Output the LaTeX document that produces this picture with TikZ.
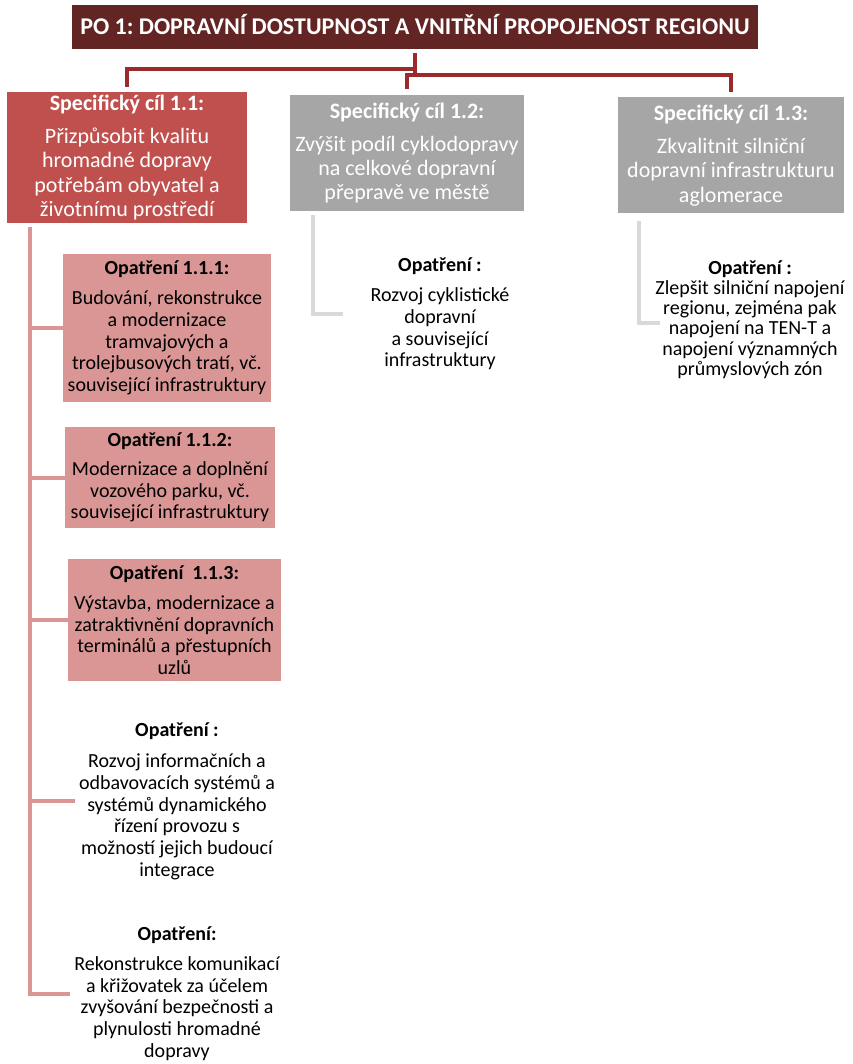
\documentclass[tikz,border=0pt]{standalone}
\usepackage{fontspec}
\setmainfont{Carlito}
\frenchspacing
\definecolor{titlered}{RGB}{99,37,35}
\definecolor{toplinec}{RGB}{155,42,44}
\definecolor{specred}{RGB}{192,80,77}
\definecolor{specgrey}{RGB}{166,166,166}
\definecolor{oppink}{RGB}{217,150,148}
\definecolor{linegrey}{RGB}{217,217,217}
\begin{document}
\begin{tikzpicture}[x=1pt,y=-1pt,
  titlebox/.style={rectangle, fill=titlered, text=white, inner sep=0pt,
    font=\fontsize{24}{28}\selectfont\bfseries, text height=15.5pt, text depth=0pt},
  specbox/.style={rectangle, text=white, inner sep=0pt, align=center,
    font=\fontsize{22}{24.3}\selectfont},
  opbox/.style={rectangle, fill=oppink, text=black, inner sep=0pt, align=center,
    font=\fontsize{20}{21.7}\selectfont},
  optext/.style={rectangle, text=black, inner sep=4pt, align=center,
    font=\fontsize{20}{21.7}\selectfont},
  toplink/.style={draw=toplinec, line width=4pt, line join=miter},
  pinklink/.style={draw=oppink, line width=4pt, line join=miter},
  greylink/.style={draw=linegrey, line width=4pt, line join=miter}]
\useasboundingbox (0,0) rectangle (852,1064);

% title
\node[titlebox, minimum width=686pt, minimum height=44pt] (title) at (415,27)
  {PO 1: DOPRAVNÍ DOSTUPNOST A VNITŘNÍ PROPOJENOST REGIONU};

% specific goals
\node[specbox, fill=specred, minimum width=240pt, minimum height=131pt] (s1) at (127,157.5)
  {\textbf{Specifický cíl 1.1:}\\[9pt]Přizpůsobit kvalitu\\hromadné dopravy\\potřebám obyvatel a\\životnímu prostředí};
\node[specbox, fill=specgrey, minimum width=234pt, minimum height=116pt] (s2) at (407,153)
  {\textbf{Specifický cíl 1.2:}\\[9pt]Zvýšit podíl cyklodopravy\\na celkové dopravní\\přepravě ve městě};
\node[specbox, fill=specgrey, minimum width=226pt, minimum height=116pt] (s3) at (731,155.5)
  {\textbf{Specifický cíl 1.3:}\\[9pt]Zkvalitnit silniční\\dopravní infrastrukturu\\aglomerace};

% top connectors
\coordinate (hub) at (415,69);
\coordinate (hubend) at (415,73);
\coordinate (hub2) at (407,75);
\draw[toplink] ([yshift=-4pt]title.south) -- (hubend);
\draw[toplink] (hub) -| ([yshift=5pt]s1.north);
\draw[toplink] ([yshift=6pt]s2.north) -- (s2.north |- hub2) -| ([yshift=5pt]s3.north);

% measures under 1.1
\node[opbox, minimum width=208pt, minimum height=148pt] (o1) at (167,328)
  {\textbf{Opatření 1.1.1:}\\[8.5pt]Budování, rekonstrukce\\a modernizace\\tramvajových a\\trolejbusových tratí, vč.\\související infrastruktury};
\node[opbox, minimum width=210pt, minimum height=101pt] (o2) at (170,477.5)
  {\textbf{Opatření 1.1.2:}\\[7.5pt]Modernizace a doplnění\\vozového parku, vč.\\související infrastruktury};
\node[opbox, minimum width=213pt, minimum height=122pt] (o3) at (174.5,620)
  {\textbf{Opatření\ \ 1.1.3:}\\[8.5pt]Výstavba, modernizace a\\zatraktivnění dopravních\\terminálů a přestupních\\uzlů};
\node[optext] (o4) at (177,801)
  {\textbf{Opatření :}\\[10pt]Rozvoj informačních a\\odbavovacích systémů a\\systémů dynamického\\řízení provozu s\\možností jejich budoucí\\integrace};
\node[optext] (o5) at (177,993.5)
  {\textbf{Opatření:}\\[8.5pt]Rekonstrukce komunikací\\a křižovatek za účelem\\zvyšování bezpečnosti a\\plynulosti hromadné\\dopravy};

\coordinate (k1) at (30,227);
\draw[pinklink] (k1) |- (o5.west);
\draw[pinklink] (k1 |- o1.west) -- (o1.west);
\draw[pinklink] (k1 |- o2.west) -- (o2.west);
\draw[pinklink] (k1 |- o3.west) -- (o3.west);
\draw[pinklink] (k1 |- o4.west) -- (o4.west);

% measures under 1.2 and 1.3
\node[optext, inner sep=0pt, minimum width=194pt] (m2) at (440,314)
  {\textbf{Opatření :}\\[8.5pt]Rozvoj cyklistické\\dopravní\\a související\\infrastruktury};
\node[optext, inner sep=0pt, font=\fontsize{20}{20.2}\selectfont] (m3) at (750,319.5)
  {\textbf{Opatření :}\\Zlepšit silniční napojení\\regionu, zejména pak\\napojení na TEN-T a\\napojení významných\\průmyslových zón};

\coordinate (k2) at (313,215);
\coordinate (k3) at (639,221);
\draw[greylink] (k2) |- (m2.west);
\draw[greylink] (k3) |- ([xshift=5pt,yshift=-3pt]m3.west);
\end{tikzpicture}
\end{document}
